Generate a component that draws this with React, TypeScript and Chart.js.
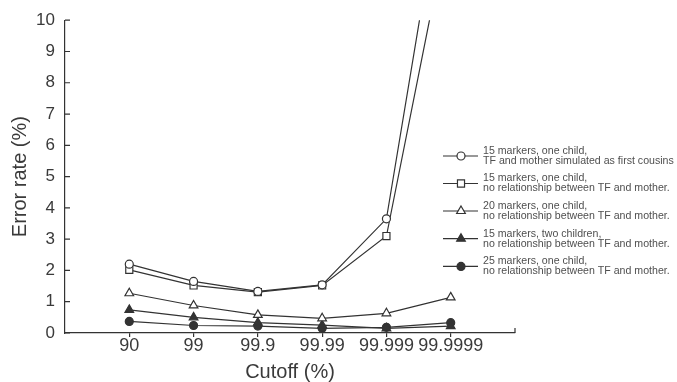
import React, { useEffect, useRef } from "react";
import { Chart, registerables } from "chart.js";
import { drawPoint } from "chart.js/helpers";

Chart.register(...registerables);

const cutoffs = ["90", "99", "99.9", "99.99", "99.999", "99.9999"];
const cousins15 = [2.2, 1.65, 1.33, 1.54, 3.65, 16.0];
const noRel15 = [2.02, 1.52, 1.31, 1.52, 3.1, 13.4];
const noRel20 = [1.27, 0.88, 0.58, 0.47, 0.63, 1.14];
const twoChildren15 = [0.74, 0.5, 0.33, 0.25, 0.15, 0.22];
const noRel25 = [0.37, 0.24, 0.22, 0.15, 0.18, 0.33];

const legendLines = [
  ["15 markers, one child,", "TF and mother simulated as first cousins"],
  ["15 markers, one child,", "no relationship between TF and mother."],
  ["20 markers, one child,", "no relationship between TF and mother."],
  ["15 markers, two children,", "no relationship between TF and mother."],
  ["25 markers, one child,", "no relationship between TF and mother."],
];

const LINE = "#333333";
const TEXT = "#3a3a3a";
const FONT = "'Liberation Sans', Arial, sans-serif";

const toPoints = (vals: number[]) => vals.map((v, i) => ({ x: i + 1, y: v }));

export default function App() {
  const ref = useRef<HTMLCanvasElement | null>(null);

  useEffect(() => {
    if (!ref.current) return;
    const mk = (label: string, vals: number[], style: string, radius: number, filled: boolean) => ({
      label,
      data: toPoints(vals),
      borderColor: LINE,
      borderWidth: 1.2,
      pointStyle: style,
      pointRadius: radius,
      pointBorderWidth: 1.2,
      pointBorderColor: LINE,
      pointBackgroundColor: filled ? LINE : "#ffffff",
      showLine: true,
      tension: 0,
    });
    const datasets = [
      mk(legendLines[0].join(" "), cousins15, "circle", 4, false),
      mk(legendLines[1].join(" "), noRel15, "rect", 5, false),
      mk(legendLines[2].join(" "), noRel20, "triangle", 5, false),
      mk(legendLines[3].join(" "), twoChildren15, "triangle", 5, true),
      mk(legendLines[4].join(" "), noRel25, "circle", 4, true),
    ];

    const customLegend = {
      id: "customLegend",
      afterDraw(chart: any) {
        const ctx = chart.ctx;
        ctx.save();
        const ys = [156, 183.5, 211, 238.7, 266.4];
        chart.data.datasets.forEach((ds: any, i: number) => {
          const y = ys[i];
          ctx.strokeStyle = LINE;
          ctx.lineWidth = 1.2;
          ctx.beginPath();
          ctx.moveTo(443, y);
          ctx.lineTo(478, y);
          ctx.stroke();
          ctx.fillStyle = ds.pointBackgroundColor;
          ctx.strokeStyle = LINE;
          drawPoint(ctx, { pointStyle: ds.pointStyle, radius: ds.pointRadius, borderWidth: 1.2, rotation: 0 }, 461, y);
          ctx.fillStyle = "#4f4f4f";
          ctx.font = `10.6px ${FONT}`;
          ctx.textAlign = "left";
          ctx.textBaseline = "middle";
          ctx.fillText(legendLines[i][0], 483, y - 5);
          ctx.fillText(legendLines[i][1], 483, y + 5);
        });
        ctx.restore();
      },
    };

    const yTicksInward = {
      id: "yTicksInward",
      afterDraw(chart: any) {
        const ctx = chart.ctx;
        const ys = chart.scales.y;
        const xs = chart.scales.x;
        ctx.save();
        ctx.strokeStyle = LINE;
        ctx.lineWidth = 1.2;
        ctx.beginPath();
        ys.ticks.forEach((t: any) => {
          const py = ys.getPixelForValue(t.value);
          ctx.moveTo(chart.chartArea.left, py);
          ctx.lineTo(chart.chartArea.left + 5, py);
        });
        const px = xs.getPixelForValue(7);
        ctx.moveTo(px, chart.chartArea.bottom);
        ctx.lineTo(px, chart.chartArea.bottom - 5);
        ctx.stroke();
        ctx.restore();
      },
    };

    const chart = new Chart(ref.current, {
      type: "line",
      data: { datasets: datasets as any },
      plugins: [customLegend, yTicksInward],
      options: {
        animation: false,
        responsive: false,
        devicePixelRatio: 1,
        layout: { padding: { top: 20, right: 162, left: 0, bottom: 0 } },
        plugins: { legend: { display: false }, tooltip: { enabled: false } },
        scales: {
          x: {
            type: "linear",
            min: 0,
            max: 7,
            afterFit: (s: any) => {
              s.height = 49;
            },
            afterBuildTicks: (s: any) => {
              s.ticks = cutoffs.map((_, i) => ({ value: i + 1 }));
            },
            ticks: {
              autoSkip: false,
              maxRotation: 0,
              padding: 0,
              color: TEXT,
              font: { family: FONT, size: 18, lineHeight: 1 },
              callback: (v: any) => cutoffs[Number(v) - 1] ?? "",
            },
            grid: { drawOnChartArea: false, drawTicks: true, tickLength: 4, color: LINE, lineWidth: 1.2 },
            border: { color: LINE, width: 1.2 },
            title: {
              display: true,
              text: "Cutoff (%)",
              color: TEXT,
              font: { family: FONT, size: 20, lineHeight: 1 },
              padding: { top: 0, bottom: 0 },
            },
          },
          y: {
            min: 0,
            max: 10,
            afterFit: (s: any) => {
              s.width = 65;
            },
            ticks: {
              stepSize: 1,
              padding: 10,
              color: TEXT,
              font: { family: FONT, size: 17 },
            },
            grid: { drawOnChartArea: false, drawTicks: false, color: LINE },
            border: { color: LINE, width: 1.2 },
            title: {
              display: true,
              text: "Error rate (%)",
              color: TEXT,
              font: { family: FONT, size: 20, lineHeight: 1 },
              padding: { top: 10, bottom: 0 },
            },
          },
        },
      } as any,
    });
    return () => chart.destroy();
  }, []);

  return (
    <div style={{ position: "fixed", left: 0, top: 0, width: 677, height: 382, background: "#fff" }}>
      <canvas ref={ref} width={677} height={382} style={{ display: "block" }} />
    </div>
  );
}
